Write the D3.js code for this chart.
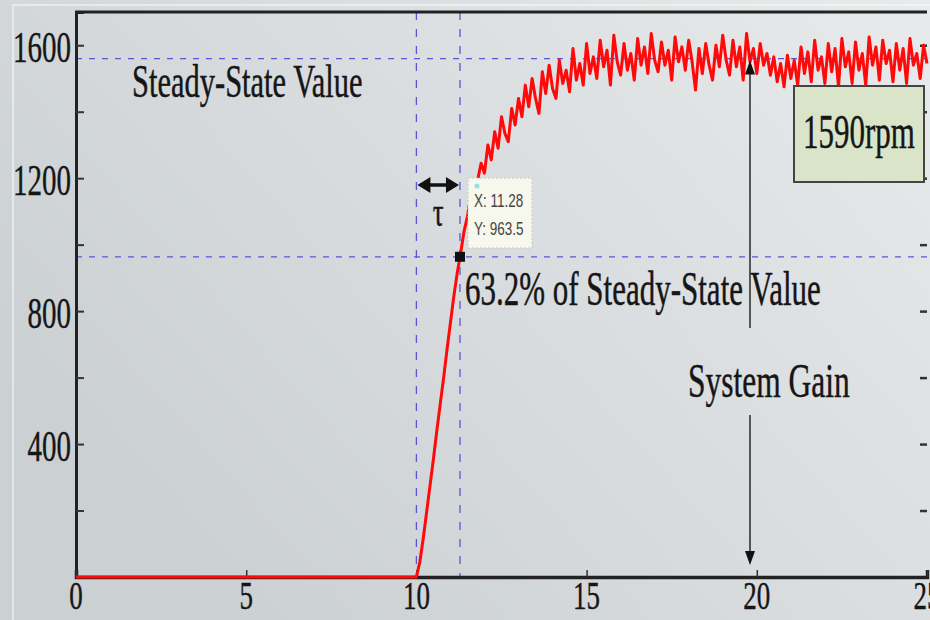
<!DOCTYPE html>
<html>
<head>
<meta charset="utf-8">
<script src="https://cdn.jsdelivr.net/npm/d3@7"></script>
<style>
body { margin: 0; background: #d8dcdf; }
#chart { width: 930px; height: 620px; }
text { font-family: "Liberation Serif", "Times New Roman", serif; }
</style>
</head>
<body>
<div id="chart"></div>
<script>
// values
var xTicks = [0, 5, 10, 15, 20, 25];
var yLabelTicks = [400, 800, 1200, 1600];
var yTicks = [200, 400, 600, 800, 1000, 1200, 1400, 1600];
var stepTime = 10;
var tauTime = 11.28;
var tauValue = 963.5;
var steadyValue = 1560;
var gainTime = 19.8;
var sampleStep = 0.1;
// speed (rpm) from t = 10 s, one sample every 0.1 s
var rpm = [
  0, 45, 115, 195, 275, 355, 440, 520, 600, 685, 765, 845, 915,
  975, 1040, 1085, 1150, 1115, 1195, 1245, 1215,
  1300, 1255, 1340, 1290, 1385, 1335, 1310, 1410, 1360, 1440,
  1385, 1480, 1415, 1500, 1440, 1395, 1520, 1455, 1540, 1470,
  1440, 1555, 1485, 1525, 1460, 1590, 1495, 1545, 1480, 1605,
  1515, 1565, 1500, 1615, 1535, 1585, 1480, 1630, 1550, 1510,
  1605, 1525, 1575, 1495, 1620, 1540, 1595, 1515, 1635, 1555,
  1520, 1610, 1540, 1585, 1495, 1625, 1550, 1595, 1525, 1615,
  1550, 1465, 1590, 1515, 1605, 1540, 1495, 1600, 1535, 1630,
  1555, 1510, 1615, 1535, 1595, 1495, 1635, 1550, 1590, 1515,
  1605, 1540, 1575, 1510, 1565, 1490, 1545, 1475, 1570, 1500,
  1555, 1480, 1595, 1515, 1580, 1490, 1615, 1525, 1565, 1485,
  1605, 1520, 1590, 1475, 1620, 1535, 1580, 1485, 1610, 1525,
  1575, 1480, 1625, 1540, 1595, 1495, 1615, 1545, 1585, 1490,
  1605, 1525, 1590, 1485, 1620, 1540, 1575, 1500, 1600, 1545
];

var width = 930, height = 620;
var svg = d3.select("#chart").append("svg")
  .attr("width", width)
  .attr("height", height);

var x = d3.scaleLinear().domain([0, 25]).range([76, 927]);
var y = d3.scaleLinear().domain([0, 1700]).range([577, 12]);

// background
var defs = svg.append("defs");
var grad = defs.append("linearGradient").attr("id", "bg")
  .attr("x1", "0%").attr("y1", "60%").attr("x2", "100%").attr("y2", "0%");
grad.append("stop").attr("offset", "0%").attr("stop-color", "#cbd0d3");
grad.append("stop").attr("offset", "100%").attr("stop-color", "#e8eaeb");
svg.append("rect").attr("width", width).attr("height", height).attr("fill", "url(#bg)");

svg.append("path")
  .attr("d", "M13,620 V5 H930")
  .attr("fill", "none")
  .attr("stroke", "#f4f6f7")
  .attr("stroke-width", 1.5)
  .attr("opacity", 0.8);

// dashed guides
var dashColor = "#5a55d8";
svg.selectAll("h_guide")
  .data([steadyValue, tauValue])
  .enter()
  .append("line")
  .attr("x1", x(0)).attr("x2", x(25))
  .attr("y1", function (d) { return y(d); })
  .attr("y2", function (d) { return y(d); })
  .attr("stroke", dashColor)
  .attr("stroke-width", 1.3)
  .attr("stroke-dasharray", "6,7");

svg.selectAll("v_guide")
  .data([stepTime, tauTime])
  .enter()
  .append("line")
  .attr("x1", function (d) { return x(d); })
  .attr("x2", function (d) { return x(d); })
  .attr("y1", y(1700)).attr("y2", y(0))
  .attr("stroke", dashColor)
  .attr("stroke-width", 1.3)
  .attr("stroke-dasharray", "8,9");

// frame and ticks
svg.append("g")
  .attr("transform", "translate(" + x(0) + ",0)")
  .call(d3.axisLeft(y).tickValues(yTicks).tickSize(-8).tickFormat(""))
  .call(function (g) { g.select(".domain").attr("stroke", "#222").attr("stroke-width", 3); })
  .call(function (g) { g.selectAll(".tick line").attr("stroke", "#333").attr("stroke-width", 2); });

svg.append("g")
  .attr("transform", "translate(" + x(25) + ",0)")
  .call(d3.axisRight(y).tickValues(yTicks).tickSize(-7).tickFormat(""))
  .call(function (g) { g.select(".domain").remove(); })
  .call(function (g) { g.selectAll(".tick line").attr("stroke", "#333").attr("stroke-width", 2.5); });

svg.append("line")
  .attr("x1", x(0) - 1).attr("x2", x(25))
  .attr("y1", y(1700)).attr("y2", y(1700))
  .attr("stroke", "#222").attr("stroke-width", 3);

svg.append("g")
  .attr("transform", "translate(0," + y(0) + ")")
  .call(d3.axisBottom(x).tickValues(xTicks).tickSize(-7).tickFormat(""))
  .call(function (g) { g.select(".domain").attr("stroke", "#222").attr("stroke-width", 3.5); })
  .call(function (g) { g.selectAll(".tick line").attr("stroke", "#333").attr("stroke-width", 1.5); });

// stretched serif text like the picture
function tallText(px, py, str, size, anchor, sy) {
  return svg.append("text")
    .attr("transform", "translate(" + px + "," + py + ") scale(1," + (sy || 1.55) + ")")
    .attr("text-anchor", anchor || "start")
    .style("font-size", size + "px")
    .style("fill", "#161616")
    .style("stroke", "#161616")
    .style("stroke-width", 0.3)
    .text(str);
}

yLabelTicks.forEach(function (d) {
  tallText(71, y(d) + 17, d, 29, "end");
});
xTicks.forEach(function (d) {
  tallText(x(d), 609, d, 27, "middle", 1.45);
});

// response curve
var curve = [[0, 0]].concat(rpm.map(function (v, i) {
  return [stepTime + i * sampleStep, v];
}));
var line = d3.line()
  .x(function (d) { return x(d[0]); })
  .y(function (d) { return y(d[1]); });

svg.append("path")
  .datum(curve)
  .attr("d", line)
  .attr("fill", "none")
  .attr("stroke", "#ff0a0a")
  .attr("stroke-width", 3)
  .attr("stroke-linejoin", "round");

// system gain arrow
var gx = x(gainTime);
svg.append("line").attr("x1", gx).attr("x2", gx).attr("y1", y(steadyValue) + 10).attr("y2", 328)
  .attr("stroke", "#333").attr("stroke-width", 1.6);
svg.append("line").attr("x1", gx).attr("x2", gx).attr("y1", 415).attr("y2", y(0) - 18)
  .attr("stroke", "#333").attr("stroke-width", 1.6);
svg.append("path")
  .attr("d", "M" + gx + "," + (y(steadyValue) + 2) + " l-5,14 h10 z")
  .attr("fill", "#111");
svg.append("path")
  .attr("d", "M" + gx + "," + (y(0) - 12) + " l-5,-14 h10 z")
  .attr("fill", "#111");

// tau double arrow
var ty = 185;
svg.append("line").attr("x1", x(stepTime) + 10).attr("x2", x(tauTime) - 10).attr("y1", ty).attr("y2", ty)
  .attr("stroke", "#111").attr("stroke-width", 3.5);
svg.append("path")
  .attr("d", "M" + (x(stepTime) + 1) + "," + ty + " l13,-8 v16 z M" + (x(tauTime) - 1) + "," + ty + " l-13,-8 v16 z")
  .attr("fill", "#111");
tallText((x(stepTime) + x(tauTime)) / 2, 226, "\u03c4", 27, "middle");

// data tip
svg.append("rect")
  .attr("x", 468).attr("y", 178).attr("width", 64).attr("height", 70)
  .attr("fill", "#f7f7ee")
  .attr("stroke", "#c8c8b8")
  .attr("stroke-dasharray", "2,2");
svg.append("circle").attr("cx", 477).attr("cy", 186).attr("r", 2.5).attr("fill", "#8fe0e8");
["X: " + tauTime, "Y: " + tauValue].forEach(function (s, i) {
  svg.append("text")
    .attr("transform", "translate(474," + (207 + i * 28) + ") scale(1,1.4)")
    .style("font-family", "'Liberation Sans', Arial, sans-serif")
    .style("font-size", "13.5px")
    .style("fill", "#444")
    .text(s);
});
svg.append("rect")
  .attr("x", x(tauTime) - 5).attr("y", y(tauValue) - 5)
  .attr("width", 10).attr("height", 10)
  .attr("fill", "#111");

// annotations
tallText(132, 97, "Steady-State Value", 30.5);
tallText(465, 305, "63.2% of Steady-State Value", 31);
tallText(688, 397, "System Gain", 31.5);

svg.append("rect")
  .attr("x", 794).attr("y", 86).attr("width", 130).attr("height", 96)
  .attr("fill", "#d9e4c8")
  .attr("stroke", "#444")
  .attr("stroke-width", 2);
tallText(859, 148, "1590rpm", 31, "middle");
</script>
</body>
</html>
